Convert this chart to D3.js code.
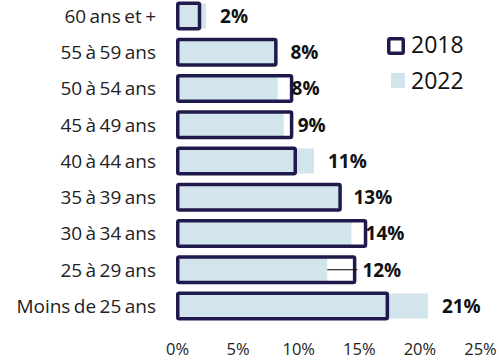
<!DOCTYPE html>
<html>
<head>
<meta charset="utf-8">
<script src="https://cdn.jsdelivr.net/npm/d3@7"></script>
<style>
  html, body { margin: 0; padding: 0; background: #fff; }
  svg { display: block; font-family: "Open Sans", sans-serif; }
</style>
</head>
<body>
<svg id="chart" width="499" height="362"></svg>
<script>
// Age groups, top to bottom
const categories = ["60 ans et +", "55 à 59 ans", "50 à 54 ans", "45 à 49 ans", "40 à 44 ans",
                    "35 à 39 ans", "30 à 34 ans", "25 à 29 ans", "Moins de 25 ans"];
// Share of each age group (%)
const values2018 = [2.0, 8.3, 9.6, 9.6, 9.9, 13.6, 15.7, 14.8, 17.5];
const values2022 = [2.4, 8.2, 8.3, 8.8, 11.3, 13.4, 14.4, 12.4, 20.7];
const xTicks = [0, 5, 10, 15, 20, 25];
const seriesNames = ["2018", "2022"];

const navy = "#1f1a4b";
const lightBlue = "#d3e5ec";

const svg = d3.select("#chart");

const x = d3.scaleLinear().domain([0, 25]).range([177, 480]);
const y = d3.scaleBand().domain(categories).range([-5.75, 327.75]).padding(0.2);

// 2022 bars (filled)
svg.append("g").selectAll("rect")
  .data(categories)
  .join("rect")
  .attr("x", x(0))
  .attr("y", (d) => y(d) + y.bandwidth() / 2 - 12.5)
  .attr("width", (d, i) => x(values2022[i]) - x(0))
  .attr("height", 25)
  .attr("fill", lightBlue);

// 2018 bars (outlined)
const sw = 3.5;
svg.append("g").selectAll("rect")
  .data(categories)
  .join("rect")
  .attr("x", x(0) - 1 + sw / 2)
  .attr("y", (d) => y(d) + sw / 2)
  .attr("width", (d, i) => x(values2018[i]) - x(0) + 1 - sw)
  .attr("height", y.bandwidth() - sw)
  .attr("rx", 1.5)
  .attr("fill", "none")
  .attr("stroke", navy)
  .attr("stroke-width", sw);

// Value labels for 2022, with a leader line when the label would sit inside the 2018 outline
const labels = svg.append("g");
categories.forEach((c, i) => {
  const cy = y(c) + y.bandwidth() / 2;
  const end22 = x(values2022[i]);
  const end18 = x(values2018[i]);
  let lx = end22 + 14;
  if (lx < end18 - 5) {
    labels.append("line")
      .attr("x1", end22).attr("x2", end18 + 1)
      .attr("y1", cy).attr("y2", cy)
      .attr("stroke", "#000").attr("stroke-width", 1);
    lx = end18 + 6;
  }
  labels.append("text")
    .attr("x", lx)
    .attr("y", cy)
    .attr("dy", "0.36em")
    .attr("font-size", 19)
    .attr("font-weight", "bold")
    .attr("fill", "#111")
    .text(Math.round(values2022[i]) + "%");
});

// Category axis labels
svg.append("g").selectAll("text")
  .data(categories)
  .join("text")
  .attr("x", 156)
  .attr("y", (d) => y(d) + y.bandwidth() / 2)
  .attr("dy", "0.36em")
  .attr("text-anchor", "end")
  .attr("font-size", 19)
  .attr("word-spacing", -1.5)
  .attr("fill", "#222")
  .text((d) => d);

// Value axis (labels only)
const xAxis = d3.axisBottom(x).tickValues(xTicks).tickFormat((d) => d + "%").tickSize(0).tickPadding(0);
const gx = svg.append("g").attr("transform", "translate(0,343)").call(xAxis);
gx.select(".domain").remove();
gx.selectAll("text")
  .attr("font-family", "Open Sans, sans-serif")
  .attr("font-size", 16.5)
  .attr("fill", "#222");

// Legend
const legend = svg.append("g");
legend.append("rect")
  .attr("x", 387 + sw / 2).attr("y", 37 + sw / 2)
  .attr("width", 18 - sw).attr("height", 18 - sw)
  .attr("rx", 1.5)
  .attr("fill", "#fff").attr("stroke", navy).attr("stroke-width", sw);
legend.append("text")
  .attr("x", 411).attr("y", 53)
  .attr("font-size", 23).attr("fill", "#111")
  .text(seriesNames[0]);
legend.append("rect")
  .attr("x", 391).attr("y", 73)
  .attr("width", 14).attr("height", 15)
  .attr("fill", lightBlue);
legend.append("text")
  .attr("x", 411).attr("y", 89)
  .attr("font-size", 23).attr("fill", "#111")
  .text(seriesNames[1]);
</script>
</body>
</html>
